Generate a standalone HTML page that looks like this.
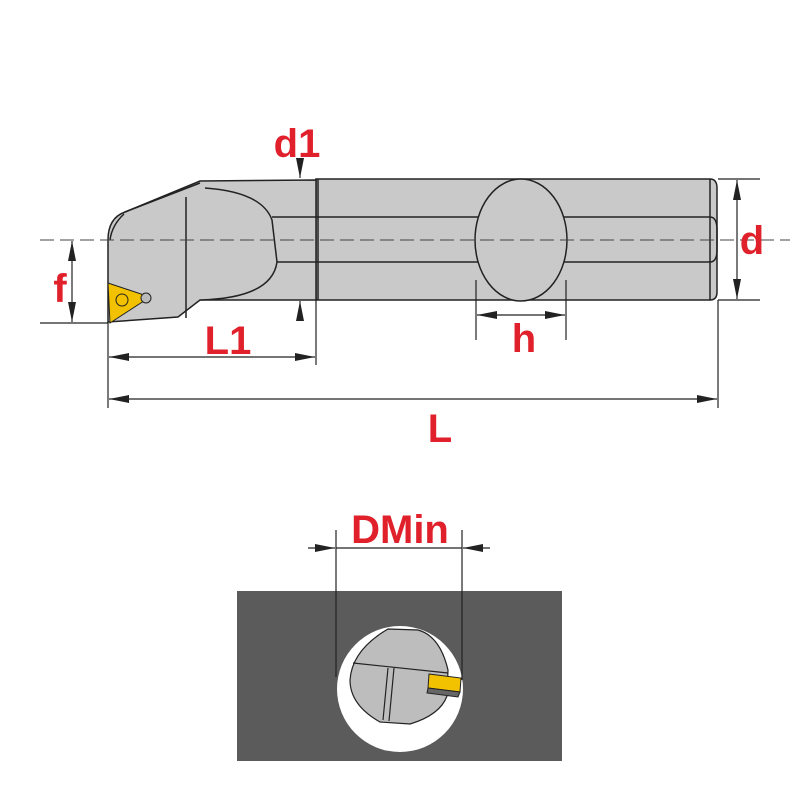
<!DOCTYPE html>
<html><head><style>html,body{margin:0;padding:0;background:#fff}svg{display:block}</style></head><body>
<svg width="800" height="800" viewBox="0 0 800 800" xmlns="http://www.w3.org/2000/svg">
<defs>
<marker id="a" viewBox="0 0 20 8" refX="20" refY="4" markerWidth="20" markerHeight="8" markerUnits="userSpaceOnUse" orient="auto-start-reverse"><path d="M0,0 L20,4 L0,8 Z" fill="#222"/></marker>
</defs>
<g stroke="#222" stroke-width="1.5" fill="#c9c9c9">
<path d="M316,179 H710 Q717,179 717,188 V292 Q717,300 710,300 H316 Z"/>
<line x1="710" y1="179" x2="710" y2="300"/>
<path d="M316,217 H710 Q717,217 717,230 V250 Q717,262 710,262 H316" fill="none"/>
<ellipse cx="521" cy="240" rx="46" ry="61"/>
<path d="M108,240 Q108,218 125,212 L200,181 L316,180 V300 H200 L178,317 L108,322 Z"/>
<path d="M125,212 L200,183 M186,197 L186,318 M124,214 Q112,225 110,240" fill="none"/>
<path d="M205,188 Q262,192 272,220 L277,262 Q272,298 200,300" fill="#c9c9c9"/>
<line x1="272" y1="217" x2="316" y2="217"/>
<line x1="277" y1="262" x2="316" y2="262"/>
<line x1="318" y1="179" x2="318" y2="300"/>
</g>
<path d="M108,283 L150,297 L110,323 Z" fill="#f2c200" stroke="#222" stroke-width="1"/>
<circle cx="122" cy="300" r="6" fill="#f2c200" stroke="#222" stroke-width="1"/>
<circle cx="146" cy="298" r="5" fill="#bbb" stroke="#222" stroke-width="1"/>
<line x1="40" y1="240" x2="790" y2="240" stroke="#444" stroke-width="1" stroke-dasharray="14,6"/>
<g stroke="#222" stroke-width="1.2" fill="none">
<line x1="300" y1="160" x2="300" y2="178" marker-end="url(#a)"/>
<line x1="300" y1="320" x2="300" y2="301" marker-end="url(#a)"/>
<line x1="718" y1="179" x2="760" y2="179"/>
<line x1="718" y1="300" x2="760" y2="300"/>
<line x1="737" y1="180" x2="737" y2="299" marker-start="url(#a)" marker-end="url(#a)"/>
<line x1="40" y1="323" x2="108" y2="323"/>
<line x1="72" y1="241" x2="72" y2="322" marker-start="url(#a)" marker-end="url(#a)"/>
<line x1="108" y1="322" x2="108" y2="408"/>
<line x1="316" y1="300" x2="316" y2="365"/>
<line x1="718" y1="300" x2="718" y2="408"/>
<line x1="476" y1="280" x2="476" y2="340"/>
<line x1="566" y1="280" x2="566" y2="340"/>
<line x1="477" y1="315" x2="565" y2="315" marker-start="url(#a)" marker-end="url(#a)"/>
<line x1="109" y1="357" x2="315" y2="357" marker-start="url(#a)" marker-end="url(#a)"/>
<line x1="109" y1="399" x2="717" y2="399" marker-start="url(#a)" marker-end="url(#a)"/>
</g>
<rect x="237" y="591" width="325" height="170" fill="#5b5b5b"/>
<circle cx="400" cy="689" r="63" fill="#fff"/>
<g stroke="#222" stroke-width="1.2">
<path d="M388,629 L418,630 Q440,636 448,670 L447,696 Q440,715 410,724 L380,722 Q350,705 350,680 Q352,650 388,629 Z" fill="#bdbdbd"/>
<line x1="353" y1="663" x2="448" y2="673"/>
<line x1="388" y1="668" x2="383" y2="720"/>
<line x1="394" y1="668" x2="389" y2="721"/>
<path d="M429,674 L461,678 L460,692 L428,688 Z" fill="#f2c200" stroke-width="1"/>
<path d="M428,688 L460,692 L458,697 L427,693 Z" fill="#666" stroke-width="1"/>
</g>
<g stroke="#222" stroke-width="1.2">
<line x1="336" y1="530" x2="336" y2="677"/>
<line x1="462" y1="530" x2="462" y2="680"/>
<line x1="336" y1="548" x2="462" y2="548"/>
<line x1="308" y1="548" x2="335" y2="548" marker-end="url(#a)"/>
<line x1="490" y1="548" x2="463" y2="548" marker-end="url(#a)"/>
</g>
<g fill="#e0202a" font-family="Liberation Sans, sans-serif" font-weight="bold" font-size="40" text-anchor="middle">
<text x="297" y="157">d1</text>
<text x="752" y="254">d</text>
<text x="60" y="302">f</text>
<text x="228" y="354">L1</text>
<text x="524" y="352">h</text>
<text x="440" y="442">L</text>
<text x="400" y="543">DMin</text>
</g>
</svg>
</body></html>
